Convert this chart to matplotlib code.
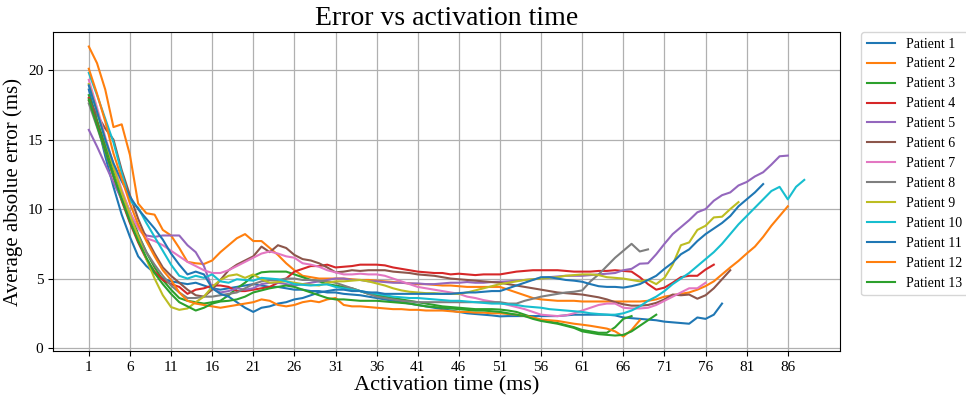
import numpy as np
import matplotlib
matplotlib.use("Agg")
import matplotlib.pyplot as plt

plt.rcParams['font.family'] = ['Liberation Serif', 'DejaVu Serif']

# Average absolute error (ms) per activation time step (1 ms) for each patient
p1 = [18.6, 16.3, 13.8, 11.6, 9.6, 8.0, 6.6, 5.9, 5.4, 5.0,
      4.8, 4.7, 4.6, 4.7, 4.5, 4.3, 4.2, 4.3, 4.4, 4.5,
      4.6, 4.5, 4.4, 4.4, 4.3, 4.2, 4.2, 4.1, 4.1, 4.0,
      4.0, 3.9, 3.85, 3.8, 3.7, 3.6, 3.5, 3.4, 3.3, 3.2,
      3.1, 3.0, 2.9, 2.8, 2.7, 2.6, 2.5, 2.45, 2.4, 2.35,
      2.28, 2.3, 2.3, 2.3, 2.3, 2.3, 2.3, 2.3, 2.35, 2.4,
      2.4, 2.4, 2.4, 2.4, 2.35, 2.2, 2.15, 2.1, 2.05, 2.0,
      1.9, 1.85, 1.8, 1.75, 2.2, 2.1, 2.4, 3.2]
p2 = [21.7, 20.5, 18.6, 15.9, 16.1, 13.9, 10.4, 9.7, 9.6, 8.5,
      8.1, 7.2, 6.2, 6.1, 6.05, 6.3, 6.9, 7.4, 7.9, 8.2,
      7.7, 7.7, 7.2, 6.7, 6.1, 5.6, 5.2, 5.1, 5.0, 5.0,
      5.0, 5.0, 4.95, 4.9, 4.9, 4.85, 4.8, 4.75, 4.7, 4.65,
      4.6, 4.6, 4.55, 4.5, 4.5, 4.45, 4.4, 4.4, 4.4, 4.4,
      4.4, 4.2, 4.0, 3.8, 3.6, 3.5, 3.45, 3.4, 3.4, 3.4,
      3.35, 3.35, 3.35, 3.35, 3.35, 3.35, 3.35, 3.35, 3.4, 3.5,
      3.7, 3.8, 3.9, 4.0, 4.2, 4.46, 4.8, 5.3, 5.8, 6.27,
      6.8, 7.3, 8.0, 8.8, 9.5, 10.2]
p3 = [18.2, 16.4, 14.6, 12.8, 11.2, 9.8, 8.2, 6.9, 5.8, 4.9,
      4.2, 3.6, 3.4, 3.3, 3.2, 3.3, 3.4, 3.8, 4.3, 4.7,
      5.2, 5.45, 5.5, 5.5, 5.5, 5.3, 5.1, 4.9, 4.8, 4.6,
      4.5, 4.4, 4.3, 4.1, 3.9, 3.8, 3.7, 3.6, 3.5, 3.4,
      3.3, 3.2, 3.1, 3.0, 2.95, 2.9, 2.85, 2.8, 2.8, 2.8,
      2.77, 2.7, 2.6, 2.4, 2.2, 2.0, 1.9, 1.8, 1.65, 1.5,
      1.3, 1.2, 1.1, 1.1, 1.5, 2.1, 2.3]
p4 = [18.0, 16.1, 14.2, 12.3, 10.6, 9.0, 7.6, 6.4, 5.5, 4.9,
      4.6, 4.4, 3.9, 4.2, 4.3, 4.5, 4.5, 4.4, 4.1, 4.1,
      4.2, 4.3, 4.4, 4.7, 5.0, 5.5, 5.7, 5.9, 5.9, 6.0,
      5.8, 5.85, 5.9, 6.0, 6.0, 6.0, 5.95, 5.8, 5.7, 5.6,
      5.5, 5.45, 5.4, 5.4, 5.3, 5.35, 5.3, 5.25, 5.3, 5.3,
      5.3, 5.4, 5.5, 5.55, 5.6, 5.6, 5.6, 5.6, 5.55, 5.5,
      5.5, 5.5, 5.55, 5.55, 5.6, 5.55, 5.5, 5.1, 4.6, 4.2,
      4.35, 4.7, 5.1, 5.2, 5.2, 5.65, 6.0]
p5 = [15.7, 14.5, 13.2, 11.9, 10.7, 9.6, 8.7, 8.1, 8.0, 8.1,
      8.1, 8.1, 7.4, 6.9, 5.9, 4.3, 4.0, 4.1, 4.3, 4.2,
      4.3, 4.6, 4.7, 4.7, 4.6, 4.5, 4.6, 4.7, 4.8, 4.9,
      5.0, 5.0, 4.9, 4.9, 4.8, 4.8, 4.75, 4.7, 4.7, 4.65,
      4.65, 4.6, 4.6, 4.65, 4.7, 4.7, 4.75, 4.7, 4.7, 4.75,
      4.77, 4.8, 4.85, 4.9, 4.95, 5.0, 5.1, 5.15, 5.2, 5.2,
      5.2, 5.25, 5.3, 5.35, 5.4, 5.6, 5.7, 6.07, 6.1, 6.75,
      7.5, 8.2, 8.7, 9.2, 9.77, 10.0, 10.6, 11.0, 11.2, 11.7,
      11.95, 12.35, 12.65, 13.2, 13.8, 13.85]
p6 = [17.8, 16.8, 15.8, 15.0, 12.8, 11.0, 9.3, 7.9, 6.8, 5.8,
      5.2, 4.7, 4.2, 3.8, 3.7, 4.2, 4.9, 5.6, 6.0, 6.3,
      6.6, 7.3, 6.9, 7.4, 7.2, 6.7, 6.4, 6.3, 6.1, 5.8,
      5.45, 5.5, 5.6, 5.55, 5.6, 5.6, 5.6, 5.5, 5.45, 5.4,
      5.3, 5.25, 5.2, 5.1, 5.0, 4.95, 4.9, 4.85, 4.8, 4.75,
      4.7, 4.6, 4.5, 4.4, 4.3, 4.2, 4.1, 4.0, 3.95, 3.9,
      3.85, 3.75, 3.65, 3.5, 3.3, 3.15, 3.05, 3.05, 3.1, 3.25,
      3.5, 3.85, 3.8, 3.85, 3.55, 3.8, 4.3, 4.95, 5.6]
p7 = [19.3, 17.3, 15.2, 13.2, 11.4, 9.8, 8.6, 7.9, 7.7, 7.4,
      7.0, 6.6, 6.2, 5.9, 5.6, 5.4, 5.4, 5.6, 5.9, 6.2,
      6.5, 6.8, 6.95, 6.8, 6.6, 6.5, 6.1, 6.0, 5.85, 5.6,
      5.45, 5.3, 5.3, 5.35, 5.3, 5.3, 5.2, 5.0, 4.8, 4.6,
      4.4, 4.3, 4.2, 4.1, 4.0, 3.9, 3.7, 3.6, 3.45, 3.35,
      3.25, 3.1, 2.95, 2.8, 2.6, 2.4, 2.35, 2.3, 2.35, 2.5,
      2.7, 2.9, 3.1, 3.2, 3.2, 2.9, 2.85, 2.85, 2.9, 3.1,
      3.4, 3.7, 4.0, 4.3, 4.3, 4.7]
p8 = [17.6, 15.9, 14.1, 12.4, 10.8, 9.4, 8.1, 6.9, 6.0, 5.2,
      4.5, 4.0, 3.6, 3.6, 3.7, 3.7, 3.8, 3.9, 4.0, 4.3,
      4.6, 4.8, 4.9, 4.9, 5.0, 5.0, 4.9, 4.9, 4.85, 4.8,
      4.7, 4.5, 4.3, 4.1, 3.9, 3.7, 3.6, 3.5, 3.4, 3.35,
      3.3, 3.3, 3.3, 3.3, 3.3, 3.3, 3.3, 3.3, 3.3, 3.3,
      3.3, 3.2, 3.2, 3.4, 3.55, 3.7, 3.8, 3.9, 4.0, 4.05,
      4.15, 4.8, 5.3, 5.9, 6.5, 7.0, 7.5, 6.95, 7.1]
p9 = [19.0, 17.0, 15.0, 13.0, 11.2, 9.6, 8.0, 6.4, 5.0, 3.8,
      2.95, 2.75, 2.85, 3.3, 3.7, 4.4, 4.9, 5.2, 5.3, 5.05,
      5.3, 4.95, 4.7, 4.75, 4.8, 4.7, 4.6, 4.55, 4.5, 4.7,
      4.8, 4.8, 4.85, 4.9, 4.8, 4.65, 4.5, 4.3, 4.15, 4.05,
      4.0, 3.95, 3.95, 3.9, 3.9, 3.9, 4.0, 4.15, 4.3, 4.45,
      4.6, 4.7, 4.8, 4.9, 4.95, 5.0, 5.05, 5.1, 5.2, 5.25,
      5.3, 5.3, 5.25, 5.1, 5.05, 5.0, 4.9, 4.8, 4.9, 4.6,
      5.05, 6.0, 7.4, 7.6, 8.5, 8.8, 9.4, 9.45, 10.0, 10.5]
p10 = [19.8, 18.2, 16.5, 14.8, 12.6, 10.6, 10.1, 9.0, 8.0, 7.0,
       6.0, 5.2, 5.0, 5.2, 5.05, 5.3, 4.8, 4.7, 4.95, 4.9,
       4.85, 5.05, 5.0, 4.95, 4.8, 4.6, 4.55, 4.5, 4.55, 4.58,
       4.4, 4.3, 4.2, 4.1, 4.0, 3.9, 3.8, 3.7, 3.65, 3.6,
       3.6, 3.55, 3.5, 3.45, 3.4, 3.4, 3.35, 3.3, 3.25, 3.2,
       3.2, 3.15, 3.1, 3.0, 2.95, 2.9, 2.8, 2.75, 2.7, 2.65,
       2.6, 2.5, 2.45, 2.4, 2.4, 2.5, 2.7, 3.0, 3.4, 3.7,
       4.1, 4.6, 5.0, 5.4, 5.9, 6.4, 6.9, 7.5, 8.2, 8.9,
       9.5, 10.1, 10.7, 11.3, 11.6, 10.7, 11.6, 12.1]
p11 = [18.9, 17.0, 15.0, 13.3, 12.0, 10.9, 10.0, 9.3, 8.6, 7.8,
       6.8, 6.0, 5.3, 5.5, 5.3, 4.3, 3.9, 3.7, 3.3, 2.9,
       2.6, 2.9, 3.0, 3.2, 3.3, 3.5, 3.6, 3.8, 4.0, 4.1,
       4.2, 4.2, 4.1, 4.1, 4.0, 4.0, 3.9, 3.9, 3.9, 3.9,
       3.9, 3.9, 3.9, 3.9, 3.9, 3.95, 4.0, 4.0, 4.05, 4.1,
       4.1, 4.3, 4.5, 4.7, 4.9, 5.1, 5.1, 5.0, 4.9, 4.85,
       4.77, 4.6, 4.45, 4.4, 4.4, 4.35, 4.45, 4.6, 4.9, 5.2,
       5.7, 6.15, 6.75, 7.1, 7.7, 8.2, 8.6, 9.0, 9.5, 10.2,
       10.7, 11.2, 11.8]
p12 = [20.1, 18.3, 16.3, 14.0, 12.2, 10.4, 8.9, 7.7, 6.6, 5.6,
       4.9, 4.0, 3.4, 3.2, 3.1, 3.0, 2.9, 3.0, 3.1, 3.2,
       3.3, 3.5, 3.4, 3.1, 3.0, 3.1, 3.3, 3.4, 3.3, 3.5,
       3.6, 3.1, 3.0, 3.0, 2.95, 2.9, 2.85, 2.8, 2.8, 2.75,
       2.75, 2.7, 2.7, 2.7, 2.65, 2.6, 2.6, 2.55, 2.55, 2.5,
       2.5, 2.45, 2.4, 2.3, 2.2, 2.05, 2.0, 1.95, 1.85, 1.75,
       1.68, 1.6, 1.5, 1.4, 1.2, 0.83, 1.3, 2.0]
p13 = [17.9, 16.0, 14.2, 12.4, 10.7, 9.1, 7.7, 6.5, 5.4, 4.6,
       3.9, 3.3, 3.0, 2.7, 2.9, 3.2, 3.35, 3.4, 3.5, 3.7,
       4.0, 4.15, 4.3, 4.4, 4.5, 4.4, 4.2, 4.0, 3.8, 3.6,
       3.5, 3.5, 3.45, 3.4, 3.4, 3.4, 3.35, 3.3, 3.25, 3.2,
       3.1, 3.0, 2.95, 2.9, 2.85, 2.8, 2.75, 2.7, 2.7, 2.65,
       2.6, 2.5, 2.4, 2.3, 2.1, 1.95, 1.85, 1.75, 1.6, 1.45,
       1.2, 1.1, 1.0, 0.95, 0.9, 0.95, 1.2, 1.6, 2.0, 2.4]

series = [p1, p2, p3, p4, p5, p6, p7, p8, p9, p10, p11, p12, p13]
labels = [f"Patient {i}" for i in range(1, 14)]
xticks = list(range(1, 87, 5))
yticks = [0, 5, 10, 15, 20]

fig = plt.figure(figsize=(9.66, 3.96), dpi=100)
ax = fig.add_axes([0.0549, 0.1136, 0.8147, 0.8056])

for vals, lab in zip(series, labels):
    t = np.arange(1, len(vals) + 1)
    ax.plot(t, vals, lw=1.5, label=lab)

ax.set_xticks(xticks)
ax.set_yticks(yticks)
ax.tick_params(labelsize=11)
ax.grid(True, color='#b0b0b0', lw=0.9)
ax.set_axisbelow(True)
ax.set_title("Error vs activation time", fontsize=20, pad=5)
ax.set_xlabel("Activation time (ms)", fontsize=16, labelpad=2)
ax.set_ylabel("Average absolue error (ms)", fontsize=15, labelpad=4)
ax.legend(loc='upper left', bbox_to_anchor=(1.027, 1.0), borderaxespad=0,
          fontsize=10, labelspacing=0.5, handlelength=2.0)

fig.savefig("out.png", dpi=100)
